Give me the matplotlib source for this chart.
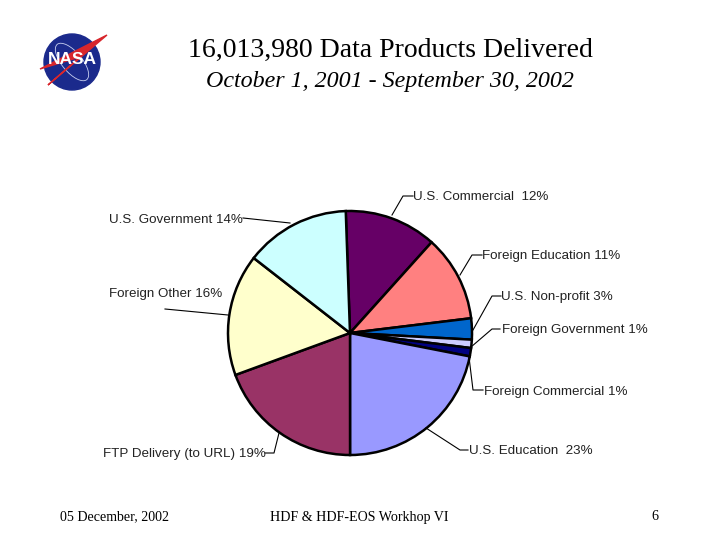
import matplotlib
matplotlib.use("Agg")
import matplotlib.pyplot as plt
from matplotlib.patches import Circle, Polygon, Ellipse

# clockwise from the top, shares
names = ["U.S. Commercial  12%", "Foreign Education 11%", "U.S. Non-profit 3%",
         "Foreign Government 1%", "Foreign Commercial 1%", "U.S. Education  23%",
         "FTP Delivery (to URL) 19%", "Foreign Other 16%", "U.S. Government 14%"]
shares = [12.2, 11.4, 2.8, 1.1, 1.1, 21.9, 19.4, 16.1, 13.9]
colors = ["#660066", "#FF8080", "#0066CC", "#CCCCFF", "#000080",
          "#9999FF", "#993366", "#FFFFCC", "#CCFFFF"]

# label anchor (x, y in image pixels)
label_pos = [(413, 197), (482, 256), (501, 297), (502, 330), (484, 392),
             (469, 451), (103, 454), (109, 294), (109, 220)]
leaders = [
    [(413, 196), (403, 196), (392, 215)],
    [(482, 255), (472, 255), (460, 275)],
    [(501, 296), (492, 296), (473, 330)],
    [(500, 329), (492, 329), (471, 347)],
    [(483, 390), (473, 390), (469, 357)],
    [(468, 450), (460, 450), (426, 428)],
    [(265, 453), (274, 453), (279, 433)],
    [(165, 309), (228, 315)],
    [(243, 218), (290, 223)],
]

title = "16,013,980 Data Products Delivered"
subtitle = "October 1, 2001 - September 30, 2002"
footer_left = "05 December, 2002"
footer_mid = "HDF & HDF-EOS Workhop VI"
footer_right = "6"

H = 540
def fy(y):
    return H - y

fig = plt.figure(figsize=(7.2, 5.4), dpi=100)
ax = fig.add_axes([0, 0, 1, 1])

wedges, _ = ax.pie(shares, colors=colors, startangle=92, counterclock=False,
                   center=(350, fy(333)), radius=122, frame=True,
                   wedgeprops=dict(edgecolor="black", linewidth=1.8))
ax.set_xlim(0, 720)
ax.set_ylim(0, 540)
ax.set_aspect("equal")
ax.axis("off")

for name, (x, y), pts in zip(names, label_pos, leaders):
    ax.plot([p[0] for p in pts], [fy(p[1]) for p in pts], color="black", lw=0.8)
    ax.text(x, fy(y), name, family="Liberation Sans", fontsize=9.6,
            color="#222222", ha="left", va="center")

ax.text(390, fy(50), title, family="Liberation Serif", fontsize=20, ha="center", va="center")
ax.text(390, fy(82), subtitle, family="Liberation Serif", style="italic", fontsize=17.3,
        ha="center", va="center")

ax.text(60, fy(517), footer_left, family="Liberation Serif", fontsize=10.1, va="center")
ax.text(270, fy(517), footer_mid, family="Liberation Serif", fontsize=10.1, va="center")
ax.text(658, fy(517), footer_right, family="Liberation Serif", fontsize=10.1, ha="right", va="center")

# NASA logo
ax.add_patch(Circle((72, fy(62)), 28, color="#1B2A8C", zorder=3))
ax.add_patch(Ellipse((72, fy(62)), 46, 20, angle=-50, fill=False, ec="#C8D0F0", lw=0.6, zorder=4))
ax.add_patch(Polygon([(40, fy(69)), (107, fy(35)), (48, fy(85)), (80, fy(57))],
                     closed=True, color="#D8262C", zorder=4))
ax.text(72, fy(60), "NASA", family="Liberation Sans", weight="bold", fontsize=12.5,
        color="white", ha="center", va="center", zorder=5)

fig.savefig("out.png", dpi=100)
